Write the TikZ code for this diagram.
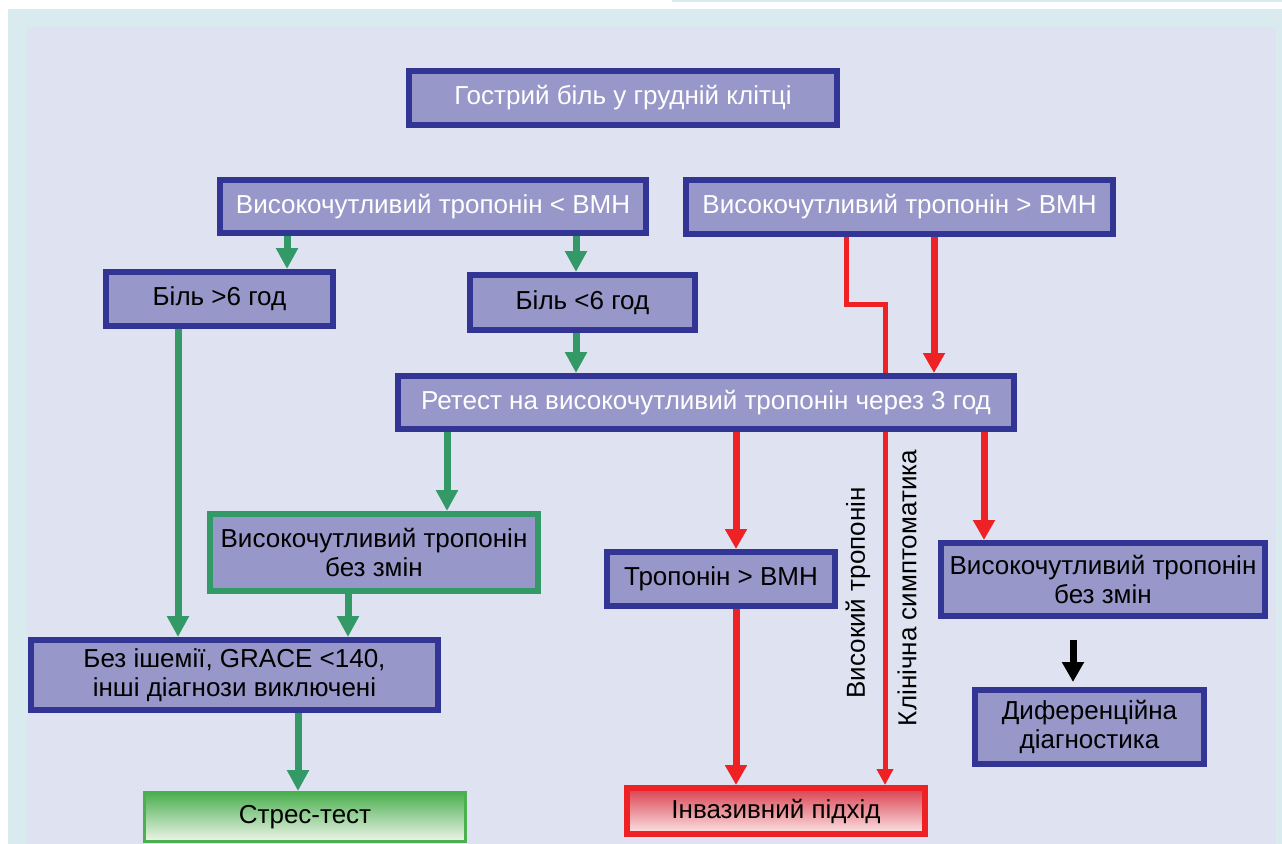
\documentclass[tikz,border=0pt]{standalone}
\usepackage{fontspec}
\setmainfont{Liberation Sans}
\usepackage{tikz}
\usetikzlibrary{
    calc,
    arrows.meta
}

\definecolor{framebg}{HTML}{D9EBEE}
\definecolor{panelbg}{HTML}{DFE3F1}
\definecolor{boxfill}{HTML}{9797C9}
\definecolor{boxline}{HTML}{333594}
\definecolor{okgreen}{HTML}{339966}
\definecolor{alarmred}{HTML}{EE2225}
\definecolor{stressline}{HTML}{4CAF50}
\definecolor{stresstop}{HTML}{4CAF50}
\definecolor{stressbot}{HTML}{EEF6EA}
\definecolor{invtop}{HTML}{D9404F}
\definecolor{invbot}{HTML}{FCE6E6}

\newdimen\px
\px=0.02cm

\tikzset{
    txt/.style={font=\fontsize{14.8}{16.5}\selectfont, align=center, inner sep=0pt},
    box/.style 2 args={txt, draw=boxline, fill=boxfill, line width=6\px,
        minimum width=#1, minimum height=#2},
    greenbox/.style 2 args={box={#1}{#2}, draw=okgreen},
    stressbox/.style 2 args={txt, draw=stressline, line width=3\px,
        top color=stresstop, bottom color=stressbot, minimum width=#1, minimum height=#2},
    invbox/.style 2 args={txt, draw=alarmred, line width=6\px,
        top color=invtop, bottom color=invbot, minimum width=#1, minimum height=#2},
    vlabel/.style={txt, rotate=90},
    gflow/.style={draw=okgreen, line width=7\px, -{Triangle[width=0.42cm,length=0.42cm]}},
    rflow/.style={draw=alarmred, line width=7\px, -{Triangle[width=0.42cm,length=0.4cm]}},
    rthin/.style={draw=alarmred, line width=5\px},
    rthinflow/.style={rthin, -{Triangle[width=0.32cm,length=0.32cm]}},
    kflow/.style={draw=black, line width=7\px, -{Triangle[width=0.42cm,length=0.4cm]}}
}

\begin{document}
\begin{tikzpicture}[x=0.02cm, y=-0.02cm]
        \useasboundingbox (0,0) rectangle (1282,844);
        \fill[white] (0,0) rectangle (1282,844);
        \fill[framebg] (8,9) rectangle (1282,844);
        \fill[framebg] (672,0) rectangle (1282,2);
        \fill[panelbg] (27,27) rectangle (1276,844);

        \draw ( 623.0, 98.0) node[box={428\px}{54\px}, text=white](chest){Гострий біль у грудній клітці};
        \draw ( 433.0,206.5) node[box={426\px}{53\px}, text=white](lowtrop){Високочутливий тропонін < ВМН};
        \draw ( 899.5,207.0) node[box={427\px}{54\px}, text=white](hightrop){Високочутливий тропонін > ВМН};
        \draw ( 219.5,299.0) node[box={227\px}{54\px}](painlong){Біль >6 год};
        \draw ( 582.5,302.5) node[box={225\px}{55\px}](painshort){Біль <6 год};
        \draw ( 706.0,402.5) node[box={616\px}{53\px}, text=white](retest){Ретест на високочутливий тропонін через 3 год};
        \draw ( 374.0,552.5) node[greenbox={328\px}{77\px}](samegreen){Високочутливий тропонін\\без змін};
        \draw ( 721.0,579.0) node[box={228\px}{54\px}](tropup){Тропонін > ВМН};
        \draw (1103.0,579.5) node[box={324\px}{73\px}](sameright){Високочутливий тропонін\\без змін};
        \draw (1089.5,727.0) node[box={229\px}{74\px}](diff){Диференційна\\діагностика};
        \draw ( 234.5,675.0) node[box={407\px}{70\px}](noisch){Без ішемії, GRACE <140,\\інші діагнози виключені};
        \draw ( 305.0,817.0) node[stressbox={321\px}{49\px}](stress){Стрес-тест};
        \draw ( 776.0,811.0) node[invbox={298\px}{46\px}](invasive){Інвазивний підхід};

        \draw ( 858.0,593.0) node[vlabel](hightxt){Високий тропонін};
        \draw ( 907.0,588.0) node[vlabel](clintxt){Клінічна симптоматика};

        \coordinate (gA) at ( 287,0);
        \coordinate (gB) at ( 576,0);
        \coordinate (gC) at ( 178,0);
        \coordinate (gD) at ( 447,0);
        \coordinate (gE) at ( 348,0);
        \coordinate (gF) at ( 298,0);
        \coordinate (rA) at ( 846,0);
        \coordinate (rB) at ( 934,0);
        \coordinate (rC) at ( 736,0);
        \coordinate (rD) at ( 984,0);
        \coordinate (kA) at (1073,0);
        \coordinate (bend) at (885,305);

        \draw[gflow] (lowtrop.south -| gA) to (painlong.north -| gA);
        \draw[gflow] (lowtrop.south -| gB) to (painshort.north -| gB);
        \draw[gflow] (painshort.south -| gB) to (retest.north -| gB);
        \draw[gflow] (painlong.south -| gC) to (noisch.north -| gC);
        \draw[gflow] (retest.south -| gD) to (samegreen.north -| gD);
        \draw[gflow] (samegreen.south -| gE) to (noisch.north -| gE);
        \draw[gflow] (noisch.south -| gF) to (stress.north -| gF);

        \draw[rthin] (hightrop.south -| rA) |- (bend) -- (retest.north -| bend);
        \draw[rflow] (hightrop.south -| rB) to (retest.north -| rB);
        \draw[rflow] (retest.south -| rC) to (tropup.north -| rC);
        \draw[rflow] (tropup.south -| rC) to (invasive.north -| rC);
        \draw[rthinflow] (retest.south -| bend) to (invasive.north -| bend);
        \draw[rflow] (retest.south -| rD) to (sameright.north -| rD);
        \draw[kflow, shorten <=0.42cm, shorten >=0.1cm] (sameright.south -| kA) to (diff.north -| kA);
\end{tikzpicture}
\end{document}
